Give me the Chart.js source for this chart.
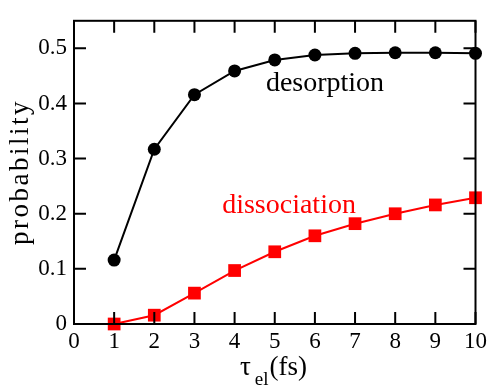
<!DOCTYPE html>
<html>
<head>
<meta charset="utf-8">
<script src="https://cdn.jsdelivr.net/npm/chart.js@4/dist/chart.umd.min.js"></script>
<style>
  html, body { margin: 0; padding: 0; background: #fff; }
  #wrap { width: 491px; height: 385px; }
</style>
</head>
<body>
<div id="wrap"><canvas id="grafica"></canvas></div>
<script>
// datos
const tau = [1, 2, 3, 4, 5, 6, 7, 8, 9, 10];
const desorption = [0.116, 0.317, 0.416, 0.459, 0.479, 0.488, 0.491, 0.492, 0.492, 0.491];
const dissociation = [0.0, 0.016, 0.056, 0.097, 0.131, 0.160, 0.182, 0.200, 0.216, 0.229];

const xTickValues = [0, 1, 2, 3, 4, 5, 6, 7, 8, 9, 10];
const xTickLabels = ["0", "1", "2", "3", "4", "5", "6", "7", "8", "9", "10"];
const yTickValues = [0, 0.1, 0.2, 0.3, 0.4, 0.5];
const yTickLabels = ["0", "0.1", "0.2", "0.3", "0.4", "0.5"];

const SERIF = "'Liberation Serif', serif";
Chart.defaults.font.family = SERIF;
Chart.defaults.color = "#000";

// marco, marcas hacia dentro y textos
const marcoPlugin = {
    id: "marco",
    afterDatasetsDraw(chart) {
        const ctx = chart.ctx;
        const a = chart.chartArea;
        const xs = chart.scales.x;
        const ys = chart.scales.y;
        const largo = 12;

        ctx.save();
        ctx.strokeStyle = "#000";
        ctx.lineWidth = 2;
        ctx.strokeRect(a.left, a.top, a.right - a.left, a.bottom - a.top);

        ctx.beginPath();
        xTickValues.forEach(v => {
            const px = xs.getPixelForValue(v);
            ctx.moveTo(px, a.bottom); ctx.lineTo(px, a.bottom - largo);
            ctx.moveTo(px, a.top);    ctx.lineTo(px, a.top + largo);
        });
        yTickValues.forEach(v => {
            const py = ys.getPixelForValue(v);
            ctx.moveTo(a.left, py);  ctx.lineTo(a.left + largo, py);
            ctx.moveTo(a.right, py); ctx.lineTo(a.right - largo, py);
        });
        ctx.stroke();

        // etiquetas de las curvas
        ctx.font = "28px " + SERIF;
        ctx.textBaseline = "alphabetic";
        ctx.textAlign = "left";
        ctx.fillStyle = "#000";
        ctx.fillText("desorption", xs.getPixelForValue(4.78), ys.getPixelForValue(0.423));
        ctx.fillStyle = "#ff0000";
        ctx.fillText("dissociation", xs.getPixelForValue(3.69), ys.getPixelForValue(0.201));

        // título eje y
        ctx.fillStyle = "#000";
        ctx.save();
        ctx.translate(28, 172);
        ctx.rotate(-Math.PI / 2);
        ctx.font = "27px " + SERIF;
        ctx.letterSpacing = "2.5px";
        ctx.textAlign = "center";
        ctx.fillText("probability", 0, 0);
        ctx.restore();

        // título eje x: τ_el(fs)
        let x = 240;
        const base = 375;
        ctx.textAlign = "left";
        ctx.font = "27px " + SERIF;
        ctx.fillText("τ", x, base);
        x += ctx.measureText("τ").width + 4;
        ctx.font = "19px " + SERIF;
        ctx.fillText("el", x, base + 10);
        x += ctx.measureText("el").width + 1;
        ctx.font = "27px " + SERIF;
        ctx.fillText("(fs)", x, base);
        ctx.restore();
    }
};

const ctx = document.getElementById("grafica");

new Chart(ctx, {
    type: "line",
    data: {
        datasets: [
            {
                label: "desorption",
                data: tau.map((t, i) => ({ x: t, y: desorption[i] })),
                borderColor: "#000",
                backgroundColor: "#000",
                borderWidth: 2,
                pointStyle: "circle",
                pointRadius: 6.5,
                pointBorderWidth: 0,
                clip: false
            },
            {
                label: "dissociation",
                data: tau.map((t, i) => ({ x: t, y: dissociation[i] })),
                borderColor: "#ff0000",
                backgroundColor: "#ff0000",
                borderWidth: 2,
                pointStyle: "rect",
                pointRadius: 9,
                pointBorderWidth: 0,
                clip: false
            }
        ]
    },
    options: {
        responsive: true,
        maintainAspectRatio: false,
        animation: false,
        layout: { padding: { top: 15, right: 13, left: 0, bottom: 0 } },
        plugins: {
            legend: { display: false },
            tooltip: { enabled: false }
        },
        scales: {
            x: {
                type: "linear",
                min: 0,
                max: 10,
                grid: { display: false, drawTicks: false },
                border: { display: false },
                afterBuildTicks: s => { s.ticks = xTickValues.map(v => ({ value: v })); },
                afterFit: s => { s.height = 61; },
                ticks: {
                    autoSkip: false,
                    maxRotation: 0,
                    padding: 4,
                    color: "#000",
                    font: { family: SERIF, size: 23 },
                    callback: (v, i) => xTickLabels[i]
                }
            },
            y: {
                min: 0,
                max: 0.55,
                grid: { display: false, drawTicks: false },
                border: { display: false },
                afterBuildTicks: s => { s.ticks = yTickValues.map(v => ({ value: v })); },
                afterFit: s => { s.width = 74; },
                ticks: {
                    padding: 7,
                    color: "#000",
                    font: { family: SERIF, size: 23 },
                    callback: (v, i) => yTickLabels[i]
                }
            }
        }
    },
    plugins: [marcoPlugin]
});
</script>
</body>
</html>
